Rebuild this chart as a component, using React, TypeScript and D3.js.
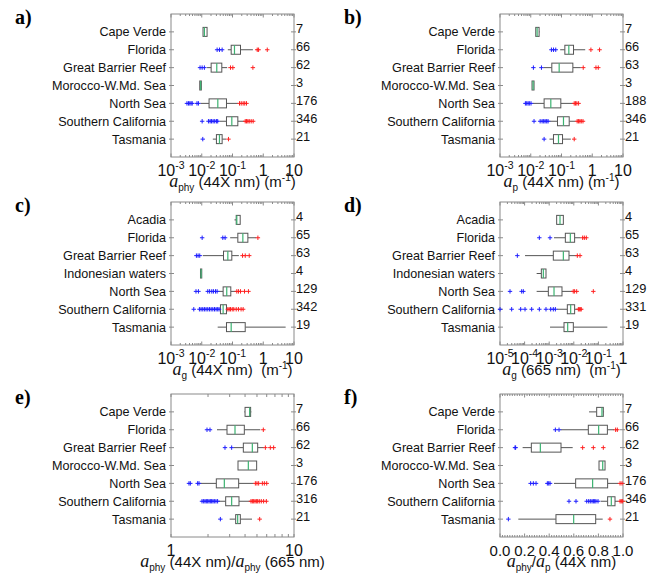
import React from "react";
import * as d3 from "d3";

const sitesPhy = ["Cape Verde", "Florida", "Great Barrier Reef", "Morocco-W.Md. Sea", "North Sea", "Southern California", "Tasmania"];
const sitesG = ["Acadia", "Florida", "Great Barrier Reef", "Indonesian waters", "North Sea", "Southern California", "Tasmania"];

// [whisker low, q1, median, q3, whisker high]
const aphyBox = [
  [0.011, 0.011, 0.0122, 0.0149, 0.0149],
  [0.0705, 0.0906, 0.116, 0.182, 0.46],
  [0.0149, 0.0202, 0.0308, 0.0449, 0.067],
  [0.0086, 0.0086, 0.0092, 0.0097, 0.0097],
  [0.0091, 0.0173, 0.0333, 0.0637, 0.149],
  [0.039, 0.0637, 0.095, 0.149, 0.234],
  [0.0229, 0.03, 0.0377, 0.046, 0.062],
];
const aphyLow = [[], [0.0316, 0.0377, 0.046], [0.0088, 0.0103, 0.0122], [], [0.0033, 0.0037, 0.0041, 0.0045, 0.0049, 0.007, 0.0078], [0.0103, 0.0165, 0.0187, 0.0207, 0.0234, 0.0264, 0.03, 0.033], [0.0108]];
const aphyHigh = [[], [0.637, 0.705, 1.35], [0.086, 0.1025, 0.46], [], [0.169, 0.192, 0.222, 0.25, 0.285], [0.259, 0.286, 0.316, 0.35, 0.405, 0.47], [0.074]];
const aphyN = [7, 66, 62, 3, 176, 346, 21];

const apBox = [
  [0.01455, 0.01455, 0.0161, 0.0187, 0.0195],
  [0.0906, 0.1285, 0.173, 0.246, 0.59],
  [0.0259, 0.0484, 0.084, 0.234, 0.427],
  [0.011, 0.011, 0.0119, 0.0128, 0.0128],
  [0.0116, 0.0272, 0.0449, 0.095, 0.234],
  [0.0406, 0.074, 0.116, 0.178, 0.286],
  [0.0406, 0.0548, 0.0798, 0.108, 0.201],
];
const apLow = [[], [0.047, 0.055, 0.065], [0.0122, 0.0223], [], [0.0067, 0.0074, 0.0082, 0.009, 0.0102], [0.0128, 0.0202, 0.0234, 0.0264, 0.0293, 0.033, 0.0366], [0.0272]];
const apHigh = [[], [0.905, 1.73], [0.509, 1.32, 1.57], [], [0.259, 0.286, 0.316, 0.36], [0.323, 0.36, 0.397, 0.44, 0.5], [0.259]];
const apN = [7, 66, 63, 3, 188, 346, 21];

const agBox = [
  [0.116, 0.132, 0.138, 0.178, 0.178],
  [0.084, 0.149, 0.217, 0.316, 0.59],
  [0.0108, 0.051, 0.0705, 0.095, 0.161],
  [0.0091, 0.0091, 0.0095, 0.01, 0.01],
  [0.035, 0.0496, 0.065, 0.088, 0.132],
  [0.0396, 0.0406, 0.0496, 0.0637, 0.067],
  [0.033, 0.0637, 0.0906, 0.259, 5.35],
];
const agLow = [[], [0.0103, 0.0484, 0.0575], [0.0067, 0.0076, 0.0086], [], [0.0065, 0.0078, 0.0157, 0.018, 0.0212, 0.024, 0.028, 0.0316], [0.0055, 0.0084, 0.0095, 0.0108, 0.0122, 0.0138, 0.0157, 0.0178, 0.0202, 0.0229, 0.026, 0.0293, 0.033, 0.0366], []];
const agHigh = [[], [0.67], [0.212, 0.26, 0.35], [], [0.138, 0.156, 0.182, 0.246, 0.33], [0.0705, 0.078, 0.086, 0.098, 0.11, 0.132, 0.156, 0.19, 0.222], []];
const agN = [4, 65, 63, 4, 129, 342, 19];

const ag665Box = [
  [0.00201, 0.00201, 0.00275, 0.00376, 0.00376],
  [0.00157, 0.00453, 0.00723, 0.0108, 0.019],
  [0.000104, 0.00147, 0.00376, 0.00638, 0.0131],
  [0.000309, 0.000479, 0.000578, 0.000741, 0.000741],
  [0.000309, 0.000922, 0.00157, 0.00331, 0.009],
  [0.0021, 0.00546, 0.00746, 0.0108, 0.0139],
  [0.00108, 0.004, 0.00564, 0.00957, 0.2307],
];
const ag665Low = [[], [0.000397, 0.00108], [0.0000507], [], [0.0000255, 0.000076, 0.0000888], [0.00001, 0.0000298, 0.0000692, 0.000104, 0.000194, 0.000397, 0.000741, 0.00115, 0.00147, 0.00178], []];
const ag665High = [[], [0.0229, 0.0268, 0.0323], [0.0139, 0.0179], [], [0.0095, 0.0108, 0.0131, 0.0622], [0.0153, 0.0167, 0.0183, 0.0201], []];
const ag665N = [4, 65, 63, 4, 129, 331, 19];

const ratioBox = [
  [3.95, 4.0, 4.36, 4.44, 4.5],
  [2.366, 2.853, 3.314, 3.946, 5.325],
  [3.232, 3.873, 4.584, 5.067, 5.67],
  [3.505, 3.505, 4.253, 4.97, 4.97],
  [1.732, 2.336, 2.714, 3.549, 4.7],
  [2.426, 2.783, 3.113, 3.571, 4.389],
  [3.0, 3.356, 3.483, 3.662, 4.556],
];
const ratioLow = [[], [1.962, 2.075], [2.748, 3.113], [], [1.4, 1.436, 1.647, 1.69], [1.787, 1.843, 1.89, 1.937, 1.987, 2.037, 2.088, 2.14, 2.194, 2.25, 2.32, 2.393], [2.519]];
const ratioHigh = [[], [5.63], [5.85, 6.42, 6.83], [], [4.85, 5.0, 5.16, 5.53, 5.74, 6.0], [4.47, 4.585, 4.7, 4.82, 4.94, 5.067, 5.22, 5.42, 5.66, 5.96], [5.26]];
const ratioN = [7, 66, 62, 3, 176, 316, 21];

const fracBox = [
  [0.724, 0.786, 0.829, 0.84, 0.846],
  [0.493, 0.718, 0.802, 0.873, 0.927],
  [0.184, 0.2547, 0.328, 0.496, 0.591],
  [0.805, 0.805, 0.835, 0.854, 0.854],
  [0.439, 0.615, 0.753, 0.875, 0.962],
  [0.818, 0.875, 0.905, 0.935, 0.962],
  [0.149, 0.455, 0.599, 0.778, 0.835],
];
const fracLow = [[], [0.45, 0.48], [0.122, 0.127], [], [0.249, 0.271, 0.293, 0.385, 0.396, 0.407], [0.561, 0.618, 0.705, 0.721, 0.734, 0.748, 0.759, 0.77, 0.78, 0.797], [0.068]];
const fracHigh = [[], [0.94, 0.954], [0.672, 0.759, 0.84], [], [0.976, 0.992], [0.976, 0.986, 0.997], [0.894]];
const fracN = [7, 66, 62, 3, 176, 346, 21];

const FONT = "'Liberation Sans', Arial, Helvetica, sans-serif";
const SERIF = "'Liberation Serif', 'Times New Roman', serif";
const FRAME = "#8a8a8a";
const BOXC = "#555";
const MED = "#3cb371";
const PW = 123;
const PH = 143;

type PanelProps = {
  x0: number; y0: number; letter: string; cats: string[];
  box: number[][]; low: number[][]; high: number[][]; n: number[];
  kind: "log" | "lin"; domain: [number, number]; title: React.ReactNode;
};

function logLabel(v: number) {
  const e = Math.round(Math.log10(v));
  if (e === 0) return <tspan>1</tspan>;
  if (e === 1) return <tspan>10</tspan>;
  return (
    <>
      <tspan>10</tspan>
      <tspan fontSize={10.5} dy={-7}>{String(e)}</tspan>
    </>
  );
}

function Panel(p: PanelProps) {
  const { x0, y0 } = p;
  const x1 = x0 + PW, y1 = y0 + PH;
  const xs: any = p.kind === "log"
    ? d3.scaleLog().domain(p.domain).range([x0, x1])
    : d3.scaleLinear().domain(p.domain).range([x0, x1]);
  const ys = d3.scaleLinear().domain([0, 8]).range([y0, y1]);

  const majors: number[] = [];
  const minors: number[] = [];
  if (p.kind === "log") {
    const a = Math.round(Math.log10(p.domain[0]));
    const b = Math.round(Math.log10(p.domain[1]));
    for (let e = a; e <= b; e++) {
      majors.push(Math.pow(10, e));
      if (e < b) for (let k = 2; k <= 9; k++) minors.push(k * Math.pow(10, e));
    }
  } else {
    for (let i = 0; i <= 5; i++) majors.push(i * 0.2);
    for (let i = 1; i < 50; i++) if (i % 10 !== 0) minors.push(i * 0.02);
  }
  const isE = p.kind === "log" && p.domain[0] === 1;

  const plus = (x: number, y: number) => `M${x - 2.2},${y}h4.4M${x},${y - 2.2}v4.4`;

  return (
    <g>
      <text x={x0 - 156} y={y0 + 9.5} fontFamily={SERIF} fontWeight="bold" fontSize={20}>{p.letter}</text>
      <rect x={x0} y={y0} width={PW} height={PH} fill="none" stroke={FRAME} strokeWidth={1} />
      {majors.map((v, i) => (
        <g key={"M" + i} stroke={FRAME}>
          <line x1={xs(v)} x2={xs(v)} y1={y0} y2={y0 + (isE ? 3 : 3.5)} />
          <line x1={xs(v)} x2={xs(v)} y1={y1} y2={y1 - (isE ? 3 : 3.5)} />
        </g>
      ))}
      {minors.map((v, i) => (
        <g key={"m" + i} stroke={FRAME}>
          <line x1={xs(v)} x2={xs(v)} y1={y0} y2={y0 + (isE ? 3 : 2)} />
          <line x1={xs(v)} x2={xs(v)} y1={y1} y2={y1 - (isE ? 3 : 2)} />
        </g>
      ))}
      {majors.map((v, i) => (
        <text key={"t" + i} x={xs(v)} y={y1 + 19} textAnchor="middle" fontFamily={FONT}
          fontSize={p.kind === "log" ? 16 : 15} fill="#111">
          {p.kind === "log" ? logLabel(v) : d3.format(".1f")(v)}
        </text>
      ))}
      <text x={(x0 + x1) / 2} y={y1 + 30} textAnchor="middle" fontFamily={FONT} fontSize={15} fill="#111">{p.title}</text>
      {p.cats.map((c, i) => {
        const y = ys(i + 1);
        const [lo, q1, md, q3, hi] = p.box[i];
        return (
          <g key={c}>
            <line x1={x0 - 2} x2={x0 + 3} y1={y} y2={y} stroke={FRAME} />
            <line x1={x1 - 3} x2={x1 + 2} y1={y} y2={y} stroke={FRAME} />
            <text x={x0 - 5} y={y + 4.5} textAnchor="end" fontFamily={FONT} fontSize={12.6} fill="#111">{c}</text>
            <text x={x1 + 2} y={y + 1.5} fontFamily={FONT} fontSize={12.8} fill="#111">{p.n[i]}</text>
            <line x1={xs(lo)} x2={xs(q1)} y1={y} y2={y} stroke={BOXC} strokeWidth={1} />
            <line x1={xs(q3)} x2={xs(hi)} y1={y} y2={y} stroke={BOXC} strokeWidth={1} />
            <rect x={xs(q1)} y={y - 4.5} width={Math.max(1, xs(q3) - xs(q1))} height={9} fill="#fff" stroke={BOXC} strokeWidth={1} />
            <line x1={xs(md)} x2={xs(md)} y1={y - 4.5} y2={y + 4.5} stroke={MED} strokeWidth={1.2} />
            {p.low[i].map((v, j) => (
              <path key={"l" + j} d={plus(xs(v), y)} stroke="#1f1fff" strokeWidth={1} fill="none" />
            ))}
            {p.high[i].map((v, j) => (
              <path key={"h" + j} d={plus(xs(v), y)} stroke="#ff2020" strokeWidth={1} fill="none" />
            ))}
          </g>
        );
      })}
    </g>
  );
}

const A = (sub: string, size = 10) => [
  <tspan key="a" fontFamily={SERIF} fontStyle="italic" fontSize={18}>a</tspan>,
  <tspan key="s" fontSize={size} dy={4}>{sub}</tspan>,
];

export default function App() {
  const L = 171, R = 500;
  const T1 = 14, T2 = 202, T3 = 394;
  return (
    <svg width={656} height={576} style={{ position: "absolute", left: 0, top: 0, background: "#fff" }}>
      <Panel x0={L} y0={T1} letter="a)" cats={sitesPhy} box={aphyBox} low={aphyLow} high={aphyHigh} n={aphyN}
        kind="log" domain={[0.001, 10]}
        title={<>{A("phy")}<tspan dy={-4}> (44X nm) (m</tspan><tspan fontSize={10} dy={-6}>-1</tspan><tspan dy={6}>)</tspan></>} />
      <Panel x0={R} y0={T1} letter="b)" cats={sitesPhy} box={apBox} low={apLow} high={apHigh} n={apN}
        kind="log" domain={[0.001, 10]}
        title={<>{A("p")}<tspan dy={-4}> (44X nm) (m</tspan><tspan fontSize={10} dy={-6}>-1</tspan><tspan dy={6}>)</tspan></>} />
      <Panel x0={L} y0={T2} letter="c)" cats={sitesG} box={agBox} low={agLow} high={agHigh} n={agN}
        kind="log" domain={[0.001, 10]}
        title={<>{A("g")}<tspan dy={-4} xmlSpace="preserve"> (44X nm)  (m</tspan><tspan fontSize={10} dy={-6}>-1</tspan><tspan dy={6}>)</tspan></>} />
      <Panel x0={R} y0={T2} letter="d)" cats={sitesG} box={ag665Box} low={ag665Low} high={ag665High} n={ag665N}
        kind="log" domain={[0.00001, 1]}
        title={<>{A("g")}<tspan dy={-4} xmlSpace="preserve"> (665 nm)  (m</tspan><tspan fontSize={10} dy={-6}>-1</tspan><tspan dy={6}>)</tspan></>} />
      <Panel x0={L} y0={T3} letter="e)" cats={sitesPhy} box={ratioBox} low={ratioLow} high={ratioHigh} n={ratioN}
        kind="log" domain={[1, 10]}
        title={<>{A("phy")}<tspan dy={-4}> (44X nm)/</tspan><tspan fontFamily={SERIF} fontStyle="italic" fontSize={18}>a</tspan><tspan fontSize={10} dy={4}>phy</tspan><tspan dy={-4}> (665 nm)</tspan></>} />
      <Panel x0={R} y0={T3} letter="f)" cats={sitesPhy} box={fracBox} low={fracLow} high={fracHigh} n={fracN}
        kind="lin" domain={[0, 1]}
        title={<>{A("phy")}<tspan dy={-4}>/</tspan><tspan fontFamily={SERIF} fontStyle="italic" fontSize={18}>a</tspan><tspan fontSize={10} dy={4}>p</tspan><tspan dy={-4}> (44X nm)</tspan></>} />
    </svg>
  );
}
